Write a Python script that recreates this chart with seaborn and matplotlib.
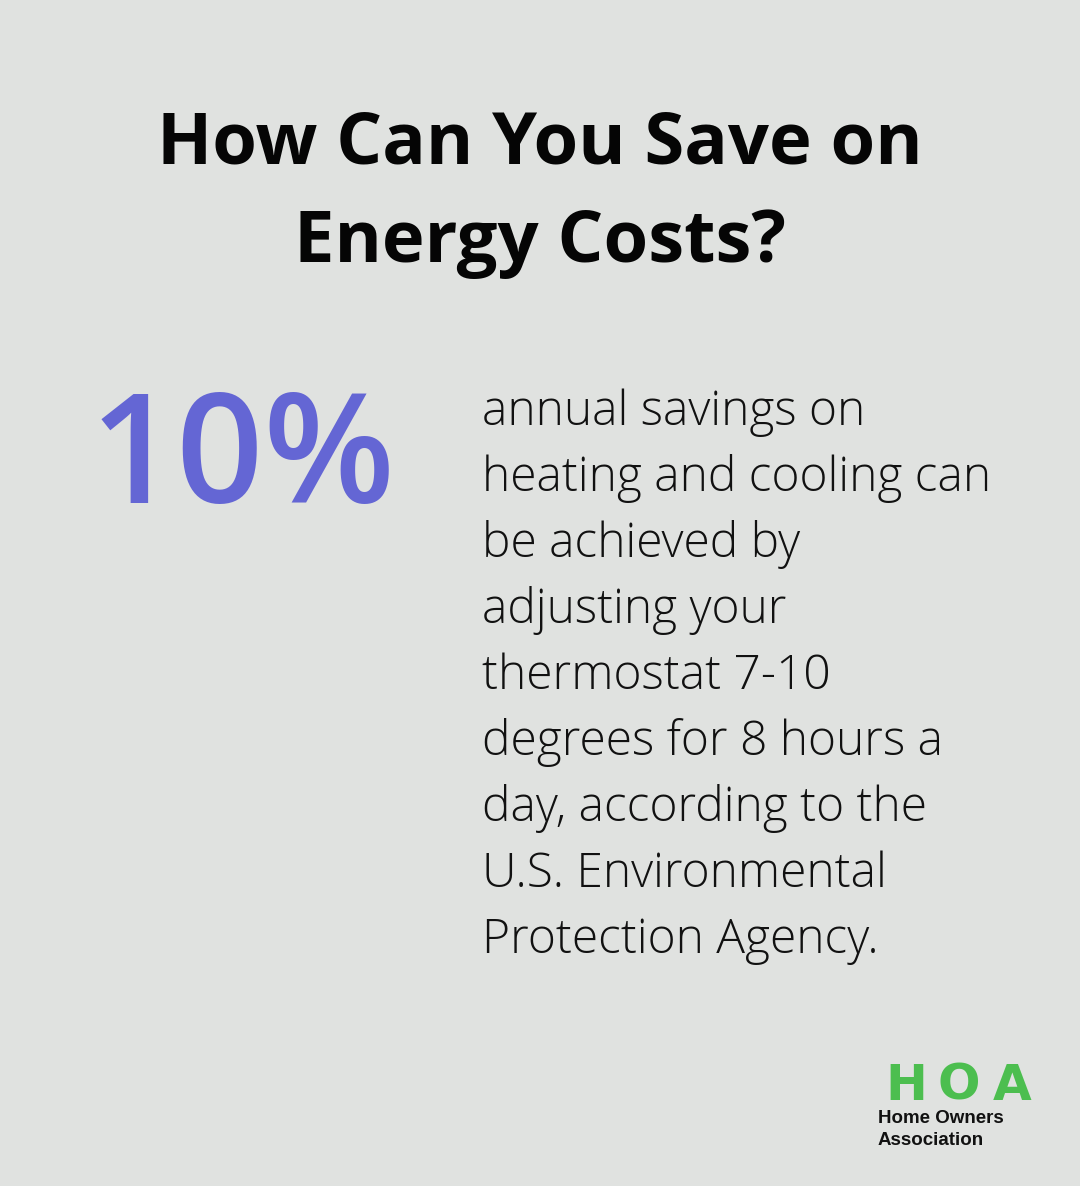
import matplotlib
matplotlib.use("Agg")
import matplotlib.pyplot as plt
import seaborn as sns

title_lines = ["How Can You Save on", "Energy Costs?"]
stat_value = "10%"
body_lines = ["annual savings on", "heating and cooling can", "be achieved by",
              "adjusting your", "thermostat 7-10", "degrees for 8 hours a",
              "day, according to the", "U.S. Environmental", "Protection Agency."]
logo_main = "HOA"
logo_sub = ["Home Owners", "Association"]

sns.set_theme(style="white")
plt.rcParams['font.family'] = ['Open Sans', 'DejaVu Sans']
W, H = 1080, 1186
bg = "#E0E2E0"
fig = plt.figure(figsize=(W/100, H/100), dpi=100, facecolor=bg)

def fy(y): return 1 - y/H

for i, t in enumerate(title_lines):
    fig.text(540/W, fy(164 + i*98), t, ha='center', va='baseline',
             fontsize=52, fontweight='bold', color='#050505')

fig.text(90/W, fy(503), stat_value, ha='left', va='baseline',
         fontsize=110, color='#6466D4', fontweight='semibold')

for i, t in enumerate(body_lines):
    fig.text(482/W, fy(425 + i*66), t, ha='left', va='baseline',
             fontsize=34.5, fontweight='light', color='#111111')

for j, ch in enumerate(logo_main):
    fig.text((906 + j*53)/W, fy(1100), ch, ha='center', va='baseline',
             fontsize=36, fontweight='bold', color='#4CBE4F',
             family=['DejaVu Sans'])
for i, t in enumerate(logo_sub):
    fig.text(878/W, fy(1123 + i*22), t, ha='left', va='baseline',
             fontsize=13.5, fontweight='bold', color='#111111',
             family=['Liberation Sans', 'DejaVu Sans'])

fig.savefig("out.png", dpi=100, facecolor=bg)
